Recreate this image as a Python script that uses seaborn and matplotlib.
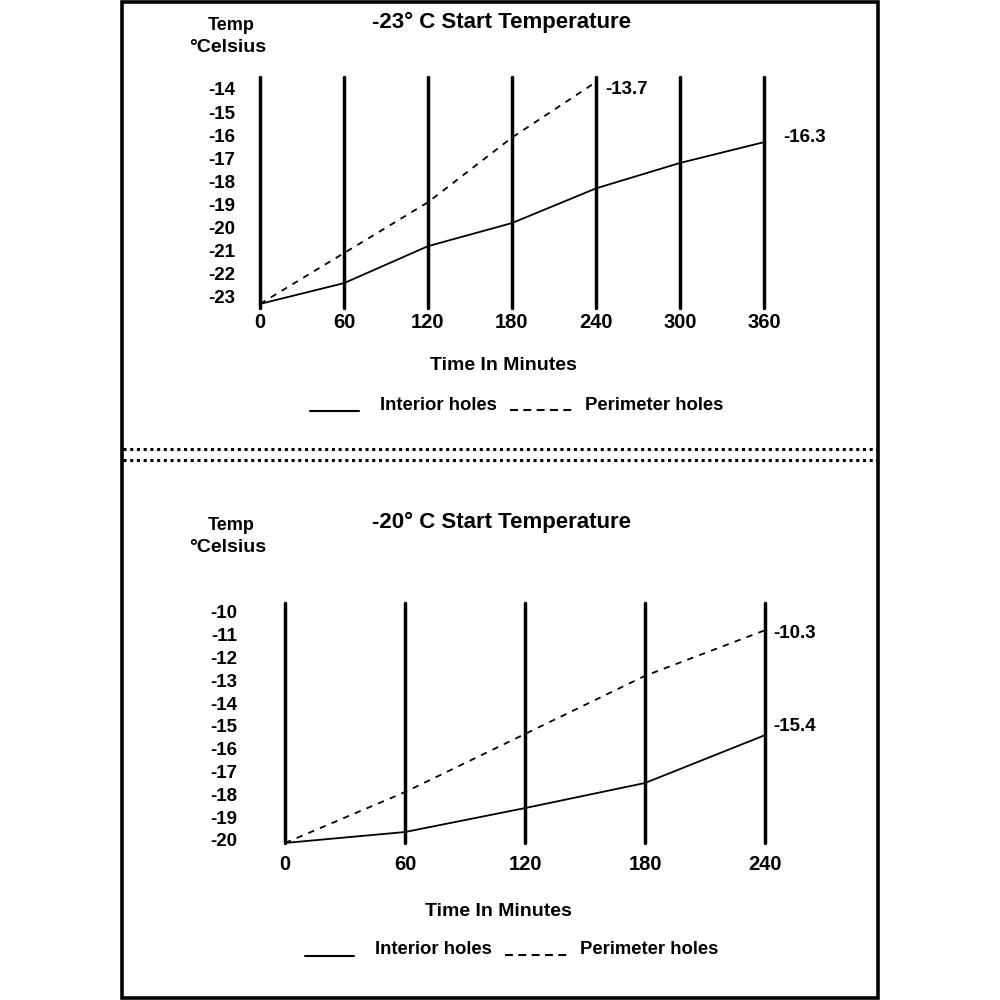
import pandas as pd
import matplotlib
matplotlib.use("Agg")
import matplotlib.pyplot as plt
import seaborn as sns
from matplotlib.lines import Line2D
from matplotlib.patches import Rectangle

sns.set_style("white")
plt.rcParams['font.family'] = ['Liberation Sans', 'DejaVu Sans']
plt.rcParams['font.weight'] = 'bold'
plt.rcParams['text.color'] = 'black'
plt.rcParams['xtick.color'] = 'black'
plt.rcParams['ytick.color'] = 'black'

# ---- data ----
top_minutes = [0, 60, 120, 180, 240, 300, 360]
top_interior = [-23.3, -22.4, -20.8, -19.8, -18.3, -17.2, -16.3]
top_perim_minutes = [0, 60, 120, 180, 240]
top_perimeter = [-23.3, -21.1, -18.9, -16.1, -13.7]
top_yticks = [-14, -15, -16, -17, -18, -19, -20, -21, -22, -23]
top_end_labels = ['-13.7', '-16.3']

bot_minutes = [0, 60, 120, 180, 240]
bot_interior = [-20.13, -19.65, -18.6, -17.5, -15.4]
bot_perimeter = [-20.13, -17.9, -15.35, -12.8, -10.8]
bot_yticks = [-10, -11, -12, -13, -14, -15, -16, -17, -18, -19, -20]
bot_end_labels = ['-10.3', '-15.4']

W = H = 1000.0


def fx(px):
    return px / W


def fy(py):
    return 1 - py / H


def long_frame(m_int, interior, m_per, perimeter):
    a = pd.DataFrame({'minutes': m_int, 'temp': interior, 'series': 'Interior holes'})
    b = pd.DataFrame({'minutes': m_per, 'temp': perimeter, 'series': 'Perimeter holes'})
    return pd.concat([a, b], ignore_index=True)


def make_axes(fig, x0_px, x1_px, xlim, ya, yb, ylim):
    # ya/yb: (value, pixel) anchors for the y scale
    (va, pa), (vb, pb) = ya, yb
    scale = (pa - pb) / (vb - va)
    top_px = pa - (ylim[1] - va) * scale
    bot_px = pa + (va - ylim[0]) * scale
    ax = fig.add_axes([fx(x0_px), fy(bot_px), fx(x1_px) - fx(x0_px), (bot_px - top_px) / H])
    ax.set_xlim(*xlim)
    ax.set_ylim(*ylim)
    return ax


def draw_panel(ax, df, xticks, yticks, ypad, xpad, end_labels, label_offsets):
    sns.lineplot(data=df, x='minutes', y='temp', style='series',
                 dashes={'Interior holes': '', 'Perimeter holes': (3.5, 3.5)},
                 color='black', linewidth=1.3, legend=False, ax=ax, clip_on=False)
    for s in ax.spines.values():
        s.set_visible(False)
    ax.set_xticks(xticks)
    ax.set_xticklabels([str(t) for t in xticks], fontsize=14.5, fontweight='bold')
    ax.set_yticks(yticks)
    ax.set_yticklabels([str(t) for t in yticks], fontsize=13.5, fontweight='bold')
    ax.tick_params(axis='y', length=0, pad=ypad)
    ax.tick_params(axis='x', length=0, pad=xpad)
    ax.xaxis.grid(True, color='black', linewidth=2.5)
    ax.yaxis.grid(False)
    for gl in ax.get_xgridlines():
        gl.set_clip_on(False)
    ax.set_xlabel('')
    ax.set_ylabel('')
    # end-point value labels
    ends = [df[df.series == 'Perimeter holes'].iloc[-1],
            df[df.series == 'Interior holes'].iloc[-1]]
    for row, lab, off in zip(ends, end_labels, label_offsets):
        ax.annotate(lab, xy=(row['minutes'], row['temp']), xytext=off,
                    textcoords='offset points', ha='left', va='center',
                    fontsize=13.5, fontweight='bold', annotation_clip=False)


def draw_texts(fig, dy, title, time_xy, key_y_txt, key_y_line, dx):
    fig.text(fx(231), fy(25 + dy), 'Temp', ha='center', va='center', fontsize=13)
    fig.text(fx(228), fy(48 + dy), '°Celsius', ha='center', va='center', fontsize=14)
    fig.text(fx(501), fy(22 + dy), title, ha='center', va='center', fontsize=16)
    fig.text(fx(time_xy[0]), fy(time_xy[1]), 'Time In Minutes',
             ha='center', va='center', fontsize=14)
    fig.add_artist(Line2D([fx(310 + dx), fx(359 + dx)], [fy(key_y_line)] * 2,
                          color='black', linewidth=1.5))
    fig.text(fx(380 + dx), fy(key_y_txt), 'Interior holes', ha='left', va='center', fontsize=13.3)
    fig.add_artist(Line2D([fx(510 + dx), fx(572 + dx)], [fy(key_y_line - 1)] * 2,
                          color='black', linewidth=1.5, linestyle=(0, (3.8, 2.6))))
    fig.text(fx(585 + dx), fy(key_y_txt), 'Perimeter holes', ha='left', va='center', fontsize=13.3)


fig = plt.figure(figsize=(10, 10), dpi=100)
fig.patch.set_facecolor('white')

# top panel: -23 C start
ax1 = make_axes(fig, 260, 764, (0, 360), (-23, 297), (-14, 89), (-23.48, -13.5))
draw_panel(ax1, long_frame(top_minutes, top_interior, top_perim_minutes, top_perimeter),
           top_minutes, top_yticks, ypad=18, xpad=3.5,
           end_labels=top_end_labels, label_offsets=[(7, -5), (13.5, 3.5)])

# bottom panel: -20 C start
ax2 = make_axes(fig, 285, 765, (0, 240), (-20, 840), (-10, 612), (-20.13, -9.6))
draw_panel(ax2, long_frame(bot_minutes, bot_interior, bot_minutes, bot_perimeter),
           bot_minutes, bot_yticks, ypad=34.5, xpad=8.5,
           end_labels=bot_end_labels, label_offsets=[(6, -2), (6, 6)])

draw_texts(fig, 0, '-23° C Start Temperature', (503, 366), 406, 411, 0)
draw_texts(fig, 500, '-20° C Start Temperature', (498, 911), 949, 956, -5)

# dotted separator and outer frame
for y in (449, 460):
    fig.add_artist(Line2D([fx(123), fx(877)], [fy(y)] * 2, color='black',
                          linewidth=2.2, linestyle=(0, (1, 1.2))))
fig.add_artist(Rectangle((fx(121.5), fy(998)), fx(878) - fx(121.5), (998 - 1.5) / H,
                         fill=False, edgecolor='black', linewidth=2.6))

fig.savefig('out.png', dpi=100, facecolor='white')
